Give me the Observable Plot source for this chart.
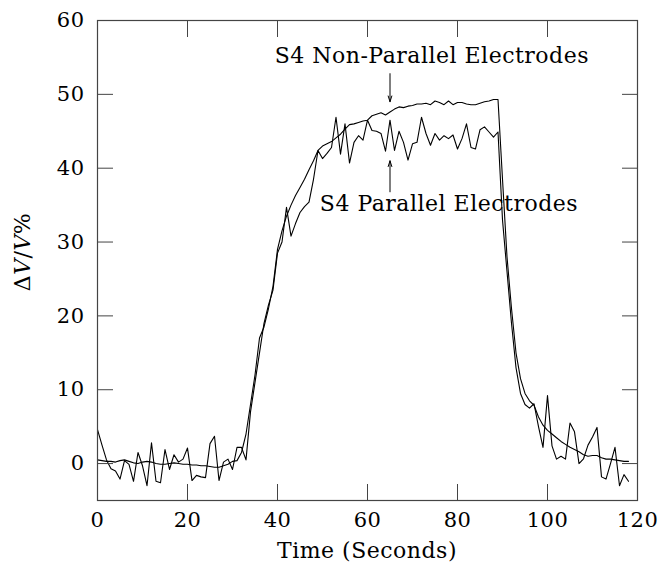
<!DOCTYPE html>
<html><head><meta charset="utf-8">
<script src="https://cdn.jsdelivr.net/npm/d3@7"></script>
<script src="https://cdn.jsdelivr.net/npm/@observablehq/plot@0.6"></script>
<style>
body{margin:0;background:#fff;}
#chart svg text{letter-spacing:0.5px;}
</style>
</head><body><div id="chart"></div>
<script>
// Time axis: one sample per second, starting at 0 s
const parallel = [
 4.6, 2.5, 0.5, -0.7, -1.0, -2.1, 0.4, -0.1, -2.4, 1.5,
 -0.3, -3.0, 2.8, -2.4, -2.6, 1.9, -0.8, 1.2, 0.2, 0.6,
 2.1, -2.3, -1.6, -1.8, -1.9, 2.7, 3.7, -2.3, 0.2, 0.6,
 -0.8, 2.2, 2.2, 0.5, 7.0, 11.0, 15.0, 19.0, 21.5, 23.5,
 28.5, 30.0, 34.7, 30.8, 32.5, 34.0, 34.8, 35.4, 38.5, 42.4,
 41.3, 42.0, 42.8, 46.9, 41.9, 46.0, 40.7, 43.5, 44.4, 43.8,
 46.5, 45.1, 45.0, 44.7, 42.3, 46.5, 42.4, 45.0, 43.5, 41.1,
 43.3, 43.5, 46.9, 44.7, 43.1, 44.7, 43.8, 44.4, 44.0, 44.5,
 42.6, 44.0, 46.0, 42.8, 42.6, 45.2, 45.6, 44.9, 44.2, 44.9,
 33.0, 26.0, 19.0, 13.0, 9.5, 8.0, 7.5, 8.1, 5.0, 2.2,
 9.2, 2.4, 0.6, 1.0, 0.6, 5.5, 4.3, 0.0, 0.65, 2.5,
 3.6, 4.9, -1.8, -2.1, 0.0, 2.2, -3.0, -1.5, -2.4
];
const nonParallel = [
 0.5, 0.4, 0.3, 0.3, 0.2, 0.4, 0.5, 0.3, 0.1, 0.0,
 0.2, 0.3, 0.2, 0.0, -0.1, -0.1, 0.0, 0.1, 0.0, -0.1,
 -0.1, -0.2, -0.2, -0.3, -0.3, -0.4, -0.5, -0.5, -0.3, -0.1,
 0.3, 0.4, 1.5, 4.0, 8.0, 12.0, 17.0, 18.5, 21.0, 24.0,
 29.0, 31.5, 33.5, 35.0, 36.3, 37.4, 38.5, 39.8, 41.0, 42.4,
 43.0, 43.3, 43.6, 44.1, 44.6, 45.3, 45.9, 46.0, 46.2, 46.4,
 46.5, 47.1, 47.3, 47.5, 47.2, 47.6, 48.0, 48.3, 48.2, 48.4,
 48.5, 48.7, 48.7, 48.8, 48.6, 49.1, 48.9, 48.6, 49.1, 48.6,
 48.9, 48.9, 48.7, 48.6, 48.6, 48.8, 49.0, 49.1, 49.3, 49.3,
 38.5, 28.0, 21.0, 15.0, 11.5, 9.5, 8.5, 7.9, 6.3, 5.2,
 4.5, 4.0, 3.5, 3.0, 2.6, 2.2, 1.9, 1.6, 1.2, 1.0,
 1.1, 1.1, 0.8, 0.6, 0.6, 0.5, 0.4, 0.3, 0.3
];
const xTicks = [0, 20, 40, 60, 80, 100, 120];
const yTicks = [0, 10, 20, 30, 40, 50, 60];
const labels = ["S4 Non-Parallel Electrodes", "S4 Parallel Electrodes"];
const labelX = [74.3, 78.1];
const labelY = [55.2, 35.2];
const arrowX = [65, 65];
const arrowFrom = [52.8, 36.8];
const arrowTo = [49.0, 41.0];

const annots = labels.map((l, i) => ({label: l, x: labelX[i], y: labelY[i]}));
const arrows = arrowX.map((x, i) => ({x, y1: arrowFrom[i], y2: arrowTo[i]}));

const FONT = '"DejaVu Serif", serif';
const chart = Plot.plot({
  width: 663, height: 574,
  marginLeft: 97, marginRight: 26, marginTop: 20, marginBottom: 74,
  style: {fontSize: "22px", color: "black", background: "white", fontFamily: FONT},
  x: {domain: [0, 120], ticks: xTicks},
  y: {domain: [-5, 60], ticks: yTicks},
  marks: [
    Plot.line(parallel, {x: (d, i) => i, y: d => d, stroke: "black", strokeWidth: 1.1}),
    Plot.line(nonParallel, {x: (d, i) => i, y: d => d, stroke: "black", strokeWidth: 1.1}),
    Plot.axisX(xTicks, {anchor: "bottom", tickSize: -16, tickFormat: () => "", label: null, stroke: "#444"}),
    Plot.axisX(xTicks, {anchor: "top", tickSize: -16, tickFormat: () => "", label: null, stroke: "#444"}),
    Plot.axisY(yTicks, {anchor: "left", tickSize: -16, tickFormat: () => "", label: null, stroke: "#444"}),
    Plot.axisY(yTicks, {anchor: "right", tickSize: -16, tickFormat: () => "", label: null, stroke: "#444"}),
    Plot.axisX(xTicks, {anchor: "bottom", tickSize: 0, tickPadding: 12, label: null, fontSize: 21}),
    Plot.axisY(yTicks, {anchor: "left", tickSize: 0, tickPadding: 13, label: null, fontSize: 21}),
    Plot.frame({stroke: "#444", strokeWidth: 1.2}),
    Plot.text(annots, {x: "x", y: "y", text: "label", fontSize: 22, textAnchor: "middle", lineAnchor: "middle", fill: "black"}),
    Plot.arrow(arrows, {x1: "x", y1: "y1", x2: "x", y2: "y2", stroke: "black", strokeWidth: 1, headLength: 9, headAngle: 35})
  ]
});
document.getElementById("chart").appendChild(chart);

const sx = chart.scale("x"), sy = chart.scale("y");
const svg = d3.select(chart);
const cx = (sx.apply(0) + sx.apply(120)) / 2;
svg.append("text").attr("x", cx).attr("y", 552).attr("text-anchor", "middle")
  .attr("dominant-baseline", "middle").attr("font-size", 22).attr("fill", "black")
  .text("Time (Seconds)");
const cy = (sy.apply(-5) + sy.apply(60)) / 2;
const yl = svg.append("text").attr("transform", `translate(24,${cy - 8}) rotate(-90)`)
  .attr("text-anchor", "middle").attr("dominant-baseline", "middle")
  .attr("font-size", 22).attr("fill", "black");
yl.append("tspan").text("Δ");
yl.append("tspan").attr("font-style", "italic").text("V");
yl.append("tspan").text("/");
yl.append("tspan").attr("font-style", "italic").text("V");
yl.append("tspan").text("%");
svg.selectAll("text").attr("font-family", FONT);
</script>
</body></html>
